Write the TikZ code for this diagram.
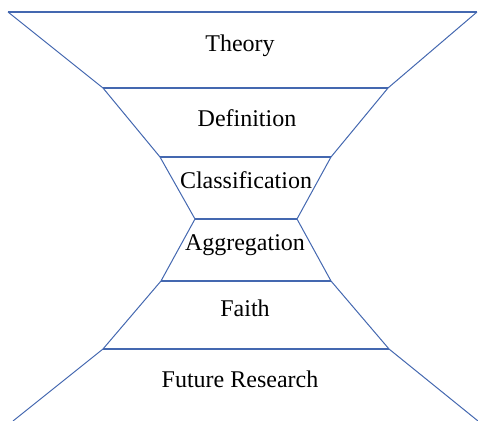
\documentclass[tikz,border=0pt]{standalone}
\usepackage{fontspec}
\setmainfont{Liberation Serif}
\usetikzlibrary{positioning}

\definecolor{funnelblue}{RGB}{68,104,176}

\begin{document}
\begin{tikzpicture}[
    x=0.5pt, y=-0.5pt,
    font=\fontsize{12}{14}\selectfont,
    edge/.style={draw=funnelblue, line width=0.5pt},
    rung/.style={draw=funnelblue, line width=0.75pt},
    stage/.style={anchor=base, inner sep=0pt},
  ]
  \useasboundingbox (0,0) rectangle (478,421);

  % Corner points of the hourglass (left and right side, top to bottom)
  \coordinate (l0) at (8,12);    \coordinate (r0) at (477,12);
  \coordinate (l1) at (103,88);  \coordinate (r1) at (388,88);
  \coordinate (l2) at (160,157); \coordinate (r2) at (331,157);
  \coordinate (l3) at (195,219); \coordinate (r3) at (297,219);
  \coordinate (l4) at (161,281); \coordinate (r4) at (331,281);
  \coordinate (l5) at (103,349); \coordinate (r5) at (389,349);
  \coordinate (l6) at (13,421);  \coordinate (r6) at (478,421);

  % Sides
  \draw[edge] (l0) -- (l1) -- (l2) -- (l3) -- (l4) -- (l5) -- (l6);
  \draw[edge] (r0) -- (r1) -- (r2) -- (r3) -- (r4) -- (r5) -- (r6);

  % Horizontal dividers
  \foreach \i in {0,...,5} \draw[rung] (l\i) -- (r\i);

  % Stage labels
  \node[stage] (theory)   at (240,52)  {Theory};
  \node[stage] (defn)     at (247,127) {Definition};
  \node[stage] (classif)  at (246,189) {Classification};
  \node[stage] (aggreg)   at (245,251) {Aggregation};
  \node[stage] (faith)    at (245,317) {Faith};
  \node[stage] (future)   at (240,388) {Future Research};

\end{tikzpicture}
\end{document}
